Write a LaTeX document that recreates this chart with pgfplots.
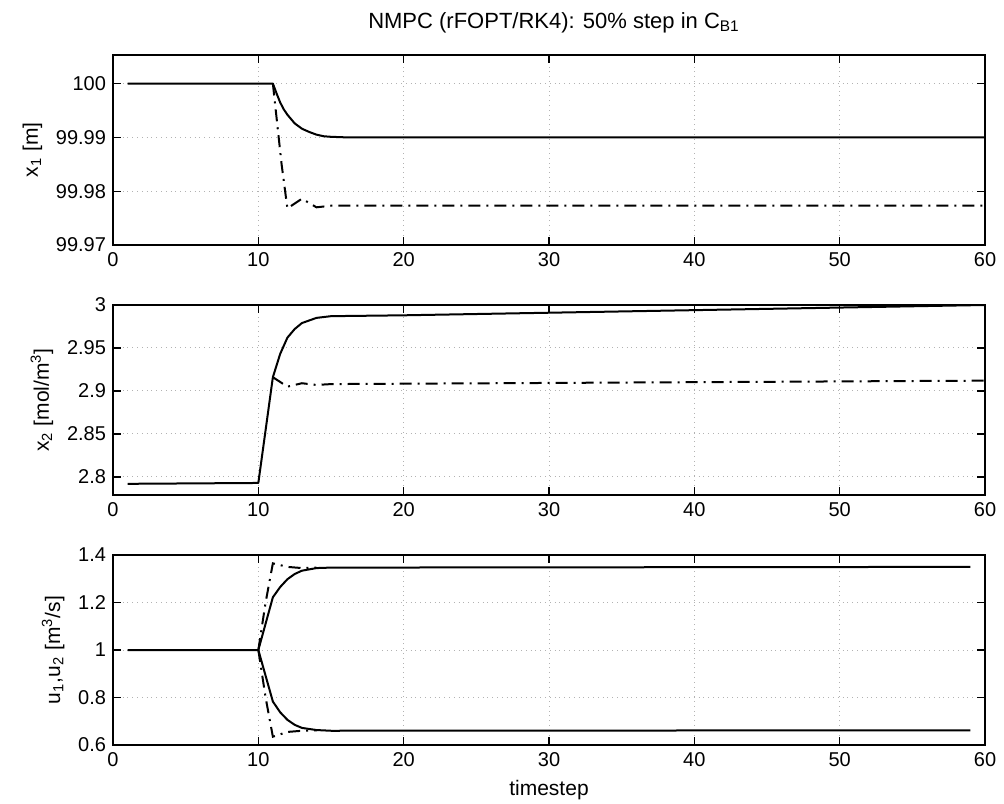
\documentclass[border=0pt]{standalone}
\usepackage{pgfplots}
\pgfplotsset{compat=1.18}
\usepackage{fontspec}
\setmainfont{Liberation Sans}

% MATLAB-like panel style (1px = 0.5pt)
\pgfplotsset{
  panel/.style={
    scale only axis, width=436pt, height=95pt,
    anchor=south west,
    xmin=0, xmax=60, xtick={0,10,...,60},
    tick pos=both, tick align=inside,
    major tick length=4pt,
    grid=major,
    grid style={dotted, gray!60, line width=0.5pt},
    axis line style={line width=0.7pt},
    tick style={line width=0.6pt, black},
    ticklabel style={font=\fontsize{10}{12}\selectfont},
    label style={font=\fontsize{10.5}{12}\selectfont},
    /pgf/number format/assume math mode=true,
    ylabel style={at={(ticklabel cs:0.5)}, anchor=south},
  },
  solidline/.style={black, line width=1pt, line join=round},
  dashline/.style={black, line width=1pt, dash pattern=on 6pt off 3pt on 1pt off 3pt},
}

\begin{document}
\begin{tikzpicture}
\useasboundingbox (0pt,0pt) rectangle (502pt,401.5pt);

% title
\node[font=\fontsize{11}{13}\selectfont] at (277pt,390pt) {NMPC (rFOPT/RK4): 50\% step in C\textsubscript{B1}};

% x1
\begin{axis}[panel, at={(56.5pt,279pt)},
  ymin=99.97, ymax=100.0053,
  ytick={99.97,99.98,99.99,100},
  yticklabels={99.97,99.98,99.99,100},
  ylabel={x\textsubscript{1} [m]}]
\addplot[solidline] coordinates {(1,100) (10,100) (11,100) (11.25,99.9982) (11.5,99.9965) (11.75,99.9952) (12,99.9942) (12.5,99.9926) (13,99.9916) (13.5,99.991) (14,99.9905) (14.5,99.9902) (15,99.9901) (16,99.99) (60,99.99)};
\addplot[dashline] coordinates {(11,100) (11.6,99.985) (12,99.9768) (13,99.9786) (14,99.977) (15,99.9773) (60,99.9773)};
\end{axis}

% x2
\begin{axis}[panel, at={(56.5pt,154pt)},
  ymin=2.779, ymax=3.0,
  ytick={2.8,2.85,2.9,2.95,3},
  yticklabels={2.8,2.85,2.9,2.95,3},
  ylabel={x\textsubscript{2} [mol/m\textsuperscript{3}]}]
\addplot[solidline] coordinates {(1,2.792) (10,2.793) (11,2.916) (11.5,2.943) (12,2.962) (12.5,2.972) (13,2.979) (14,2.985) (15,2.987) (20,2.988) (60,3.0)};
\addplot[dashline] coordinates {(11,2.916) (12,2.905) (13,2.909) (14,2.907) (15,2.908) (60,2.912)};
\end{axis}

% u1, u2
\begin{axis}[panel, at={(56.5pt,29pt)},
  ymin=0.6, ymax=1.4,
  ytick={0.6,0.8,1,1.2,1.4},
  yticklabels={0.6,0.8,1,1.2,1.4},
  ylabel={u\textsubscript{1},u\textsubscript{2} [m\textsuperscript{3}/s]},
  xlabel={timestep}]
\addplot[solidline] coordinates {(1,1) (10,1) (11,1.222) (11.5,1.265) (12,1.298) (12.5,1.32) (13,1.334) (14,1.345) (15,1.347) (59,1.35)};
\addplot[solidline] coordinates {(10,1) (11,0.783) (11.5,0.738) (12,0.706) (12.5,0.685) (13,0.672) (14,0.663) (15,0.66) (59,0.662)};
\addplot[dashline] coordinates {(10,1) (10.5,1.2) (11,1.365) (12,1.35) (13,1.345) (14,1.347)};
\addplot[dashline] coordinates {(10,1) (10.5,0.8) (11,0.635) (12,0.655) (13,0.66) (14,0.662)};
\end{axis}
\end{tikzpicture}
\end{document}
